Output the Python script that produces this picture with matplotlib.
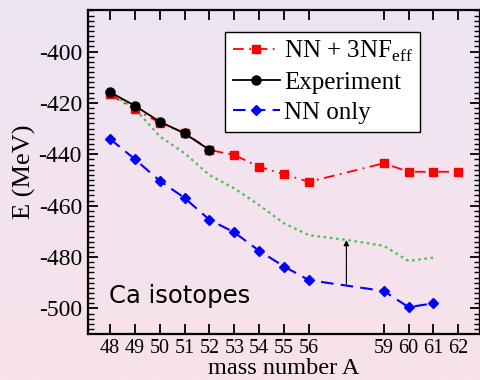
import numpy as np
import matplotlib
matplotlib.use('Agg')
from matplotlib import pyplot as plt
from matplotlib.colors import LinearSegmentedColormap
from matplotlib.ticker import MultipleLocator

plt.rcParams['font.family'] = ['Liberation Serif', 'DejaVu Serif']
plt.rcParams['mathtext.fontset'] = 'custom'
plt.rcParams['mathtext.rm'] = 'Liberation Serif'
plt.rcParams['axes.unicode_minus'] = False

# data
mass_3nf = [48, 49, 50, 51, 52, 53, 54, 55, 56, 59, 60, 61, 62]
e_3nf = [-416.7, -422.5, -427.7, -431.6, -438.3, -440.3, -444.9, -447.8, -450.7,
         -443.5, -446.8, -446.8, -446.8]

mass_exp = [48, 49, 50, 51, 52]
e_exp = [-415.8, -421.1, -427.3, -431.9, -438.3]

mass_nn = [48, 49, 50, 51, 52, 53, 54, 55, 56, 59, 60, 61]
e_nn = [-434.0, -441.9, -450.3, -457.0, -465.5, -470.4, -477.6, -483.7, -489.0,
        -493.2, -499.5, -498.0]

mass_green = [48, 49, 50, 51, 52, 53, 54, 55, 56, 57.5, 59, 60, 61]
e_green = [-416.0, -422.2, -433.0, -439.6, -448.1, -453.3, -459.8, -466.9, -471.5,
           -473.3, -475.6, -481.5, -480.2]

xticks = [48, 49, 50, 51, 52, 53, 54, 55, 56, 59, 60, 61, 62]
yticks = [-500, -480, -460, -440, -420, -400]
arrow_x = 57.5
arrow_from = -490.6
arrow_to = -473.4

fig = plt.figure(figsize=(4.81, 3.80), dpi=100)

# gradient background
bg = fig.add_axes([0, 0, 1, 1], zorder=-10)
grad = np.linspace(0, 1, 256).reshape(-1, 1)
cmap = LinearSegmentedColormap.from_list('bg', ['#ede5f4', '#f9e2ea'])
bg.imshow(grad, aspect='auto', cmap=cmap, extent=[0, 1, 0, 1], origin='upper')
bg.axis('off')

ax = fig.add_axes([0.182, 0.122, 0.816, 0.852])
ax.patch.set_alpha(0)

ax.plot(mass_green, e_green, color='#4cc04c', lw=1.6, linestyle=(0, (1.2, 1.6)))
ax.plot(mass_3nf, e_3nf, color='red', lw=1.3, linestyle=(0, (6, 3, 1, 3)),
        marker='s', ms=6, label='NN + 3NF$_{\\rm eff}$')
ax.plot(mass_exp, e_exp, color='black', lw=1.3, marker='o', ms=6.5,
        label='Experiment')
ax.plot(mass_nn, e_nn, color='blue', lw=1.5, linestyle=(0, (6, 3.5)),
        marker='D', ms=5.5, label='NN only')

ax.annotate('', xy=(arrow_x, arrow_to), xytext=(arrow_x, arrow_from),
            arrowprops=dict(arrowstyle='-|>', color='black', lw=0.8,
                            mutation_scale=8, shrinkA=0, shrinkB=0))

ax.text(47.95, -497.9, 'Ca isotopes', family=['DejaVu Sans'],
        fontsize=17.5, ha='left', va='baseline')

ax.set_xlim(47.1, 62.87)
ax.set_ylim(-509.8, -383.8)
ax.set_xticks(xticks)
ax.set_xticklabels([str(t) for t in xticks], family='Liberation Serif', fontsize=14.5)
ax.set_yticks(yticks)
ax.set_yticklabels([str(t) for t in yticks], family='Liberation Serif', fontsize=17)
ax.yaxis.set_minor_locator(MultipleLocator(2))
ax.tick_params(axis='both', which='major', direction='in', top=True, right=True,
               length=7.5, width=1.3)
ax.tick_params(axis='y', which='minor', direction='in', right=True,
               length=4, width=1)
ax.tick_params(axis='x', pad=4)
ax.tick_params(axis='y', pad=4)
for s in ax.spines.values():
    s.set_linewidth(1.6)

ax.set_xlabel('mass number A', fontsize=17.5, labelpad=0)
ax.set_ylabel('E (MeV)', fontsize=19, labelpad=2)

leg = ax.legend(loc='upper left', bbox_to_anchor=(0.468, 0.917),
                bbox_transform=fig.transFigure, fontsize=18, fancybox=False,
                edgecolor='black', framealpha=1, handlelength=1.9,
                handletextpad=0.15, labelspacing=0.3, borderpad=0.3,
                borderaxespad=0)
leg.get_frame().set_linewidth(1)

plt.savefig('out.png', dpi=100)
